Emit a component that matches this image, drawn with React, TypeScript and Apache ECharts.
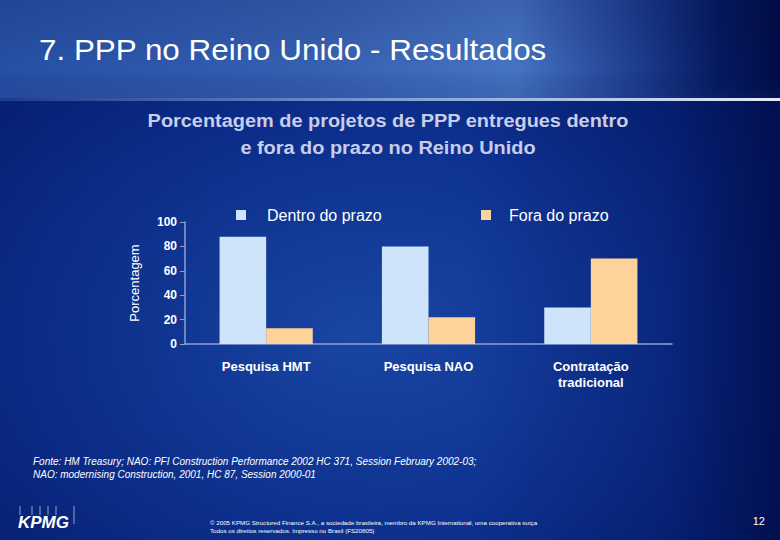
import React, { useEffect, useRef } from "react";
import * as echarts from "echarts";

const categories = ["Pesquisa HMT", "Pesquisa NAO", "Contratação\ntradicional"];
const dentroValues = [88, 80, 30];
const foraValues = [13, 22, 70];
const seriesNames = ["Dentro do prazo", "Fora do prazo"];
const yTicks = { min: 0, max: 100, interval: 20 };

const FONT = "'Liberation Sans', Arial, sans-serif";
const SX = 1.083;

export default function App() {
  const ref = useRef<HTMLDivElement>(null);
  useEffect(() => {
    if (!ref.current) return;
    const chart = echarts.init(ref.current, null, { renderer: "svg" });
    const lg = (x1: number, y1: number, x2: number, y2: number, stops: [number, string][]) => ({
      type: "linear", x: x1, y: y1, x2, y2,
      colorStops: stops.map(([offset, color]) => ({ offset, color })),
    });
    const option: any = {
      animation: false,
      backgroundColor: "#0b2c88",
      graphic: [
        { type: "rect", z: -10, silent: true, shape: { x: 0, y: 0, width: 780, height: 540 },
          style: { fill: { type: "radial", x: 0.45, y: 0.62, r: 0.75,
            colorStops: [{ offset: 0, color: "#1a47a6" }, { offset: 0.5, color: "#0d3190" }, { offset: 1, color: "#031a6a" }] } } },
        { type: "rect", z: -9, silent: true, shape: { x: 0, y: 0, width: 780, height: 540 },
          style: { fill: lg(0, 0, 1, 0, [[0, "rgba(0,20,90,0.15)"], [0.6, "rgba(0,15,80,0)"], [0.85, "rgba(0,15,80,0.25)"], [1, "rgba(0,10,70,0.75)"]]) } },
        { type: "rect", z: -8, silent: true, shape: { x: 0, y: 0, width: 780, height: 98 },
          style: { fill: lg(0, 0, 1, 0, [[0, "#2650a6"], [0.4, "#3660b3"], [0.66, "#4674c4"], [0.82, "#1c3c8e"], [0.92, "#061a62"], [1, "#000c48"]]) } },
        { type: "rect", z: -7, silent: true, shape: { x: 0, y: 0, width: 780, height: 98 },
          style: { fill: lg(0, 0, 0, 1, [[0, "rgba(0,10,60,0.15)"], [0.7, "rgba(0,0,0,0)"], [1, "rgba(20,50,130,0.2)"]]) } },
        { type: "rect", z: -6, silent: true, shape: { x: 0, y: 98, width: 780, height: 3 },
          style: { fill: lg(0, 0, 1, 0, [[0, "rgba(90,120,190,0.3)"], [0.5, "#7f9ed2"], [1, "#e4ecfa"]]) } },
        { type: "text", x: 39, y: 50, scaleX: SX, silent: true,
          style: { text: "7. PPP no Reino Unido - Resultados", fill: "#ffffff", font: `29px ${FONT}`, verticalAlign: "middle", textAlign: "left" } },
        { type: "text", x: 388, y: 107.5, scaleX: SX, silent: true,
          style: { text: "Porcentagem de projetos de PPP entregues dentro\ne fora do prazo no Reino Unido", fill: "#c8cdea",
            font: `bold 18.4px ${FONT}`, lineHeight: 27, textAlign: "center", verticalAlign: "top" } },
        { type: "text", x: 33, y: 455, silent: true,
          style: { text: "Fonte: HM Treasury; NAO: PFI Construction Performance 2002 HC 371, Session February 2002-03;\nNAO: modernising Construction, 2001, HC 87, Session 2000-01",
            fill: "#ffffff", font: `italic 10px ${FONT}`, lineHeight: 13, textAlign: "left", verticalAlign: "top" } },
        { type: "text", x: 18, y: 522, silent: true,
          style: { text: "KPMG", fill: "#ffffff", font: `italic bold 17px ${FONT}`, textAlign: "left", verticalAlign: "middle" } },
        ...[20, 32, 40, 48, 56].map((x) => ({ type: "line", silent: true, shape: { x1: x, y1: 506, x2: x, y2: 515 },
          style: { stroke: "rgba(220,230,250,0.8)", lineWidth: 0.8 } })),
        { type: "line", silent: true, shape: { x1: 74, y1: 506, x2: 74, y2: 524 }, style: { stroke: "rgba(220,230,250,0.8)", lineWidth: 0.8 } },
        { type: "text", x: 210, y: 518, silent: true,
          style: { text: "© 2005 KPMG Structured Finance S.A., a sociedade brasileira, membro da KPMG International, uma cooperativa suíça\nTodos os direitos reservados. Impresso no Brasil (FS20805)",
            fill: "#ffffff", font: `6.2px ${FONT}`, lineHeight: 8.5, textAlign: "left", verticalAlign: "top" } },
        { type: "text", x: 765, y: 521, silent: true,
          style: { text: "12", fill: "#ffffff", font: `11px ${FONT}`, textAlign: "right", verticalAlign: "middle" } },
      ],
      legend: [
        { data: [seriesNames[0]], left: 231, top: 202, icon: "rect", itemWidth: 10, itemHeight: 10,
          textStyle: { color: "#ffffff", fontSize: 16, fontFamily: FONT, padding: [0, 0, 0, 16] } },
        { data: [seriesNames[1]], left: 476, top: 202, icon: "rect", itemWidth: 10, itemHeight: 10,
          textStyle: { color: "#ffffff", fontSize: 16, fontFamily: FONT, padding: [0, 0, 0, 13] } },
      ],
      grid: { left: 185, right: 108, top: 222, bottom: 196, containLabel: false },
      xAxis: {
        type: "category", data: categories,
        axisLine: { show: true, lineStyle: { color: "#8ea2cf", width: 1.5 } },
        axisTick: { show: false },
        axisLabel: { color: "#ffffff", fontSize: 13, fontWeight: "bold", fontFamily: FONT, margin: 14, lineHeight: 16, interval: 0 },
      },
      yAxis: {
        type: "value", min: yTicks.min, max: yTicks.max, interval: yTicks.interval,
        name: "Porcentagem", nameLocation: "middle", nameGap: 44, nameRotate: 90,
        nameTextStyle: { color: "#ffffff", fontSize: 13, fontFamily: FONT },
        axisLine: { show: true, lineStyle: { color: "#8ea2cf", width: 1.5 } },
        axisTick: { show: true, length: 5, lineStyle: { color: "#8ea2cf" } },
        splitLine: { show: false },
        axisLabel: { color: "#ffffff", fontSize: 12, fontWeight: "bold", fontFamily: FONT, margin: 8 },
      },
      series: [
        { name: seriesNames[0], type: "bar", data: dentroValues, barGap: "0%", barCategoryGap: "42.6%", itemStyle: { color: "#cde4fb" } },
        { name: seriesNames[1], type: "bar", data: foraValues, barGap: "0%", barCategoryGap: "42.6%", itemStyle: { color: "#fdd39a" } },
      ],
    };
    chart.setOption(option);
    return () => chart.dispose();
  }, []);
  return <div ref={ref} style={{ position: "fixed", left: 0, top: 0, width: 780, height: 540 }} />;
}
